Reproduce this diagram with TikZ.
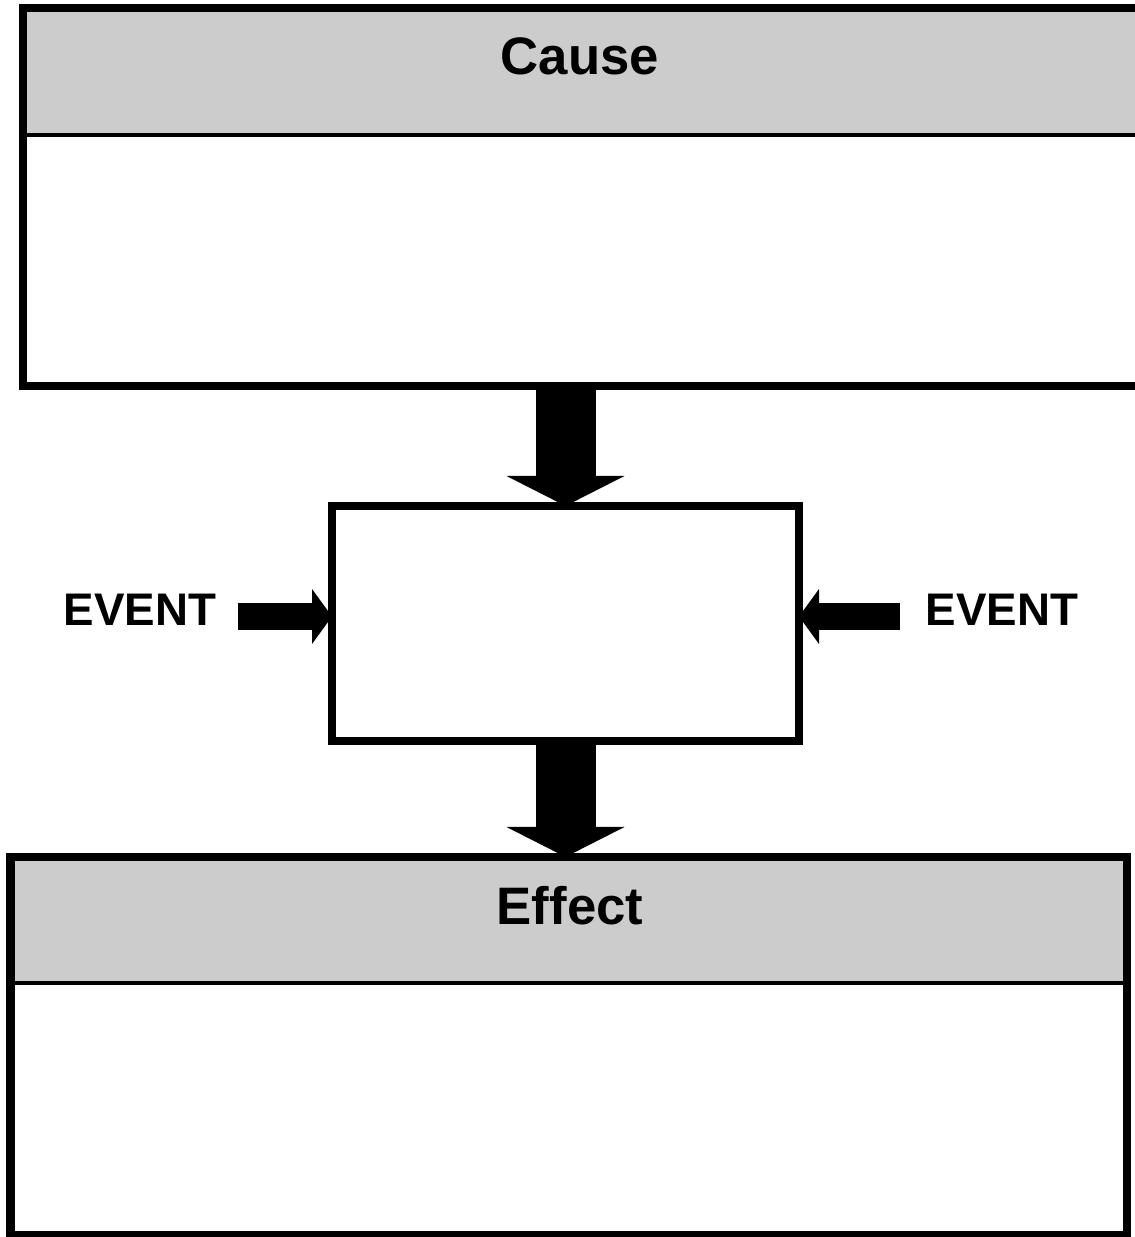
\documentclass[tikz,border=0pt]{standalone}
\usepackage{fontspec}
\setmainfont{Liberation Sans}
\usetikzlibrary{arrows.meta,backgrounds}
\definecolor{headgray}{RGB}{204,204,204}

\tikzset{
    box/.style={draw, line width=0.16cm, rectangle, inner sep=0pt, outer sep=0pt},
    divider/.style={line width=0.08cm},
    title/.style={font=\fontsize{30}{36}\selectfont\bfseries, inner sep=0pt},
    eventlabel/.style={font=\fontsize{26}{31}\selectfont\bfseries, inner sep=0pt},
    bigarrow/.style={line width=1.2cm, -{Triangle[length=0.6cm, width=2.36cm, line width=0pt]}},
    sidearrow/.style={line width=0.54cm, -{Triangle[length=0.4cm, width=1.1cm, line width=0pt]}}
}

\begin{document}
\begin{tikzpicture}
    \useasboundingbox (0,0) rectangle (22.7,24.74);
    \clip (0,0) rectangle (22.7,24.74);

    % Cause box
    \node[box, minimum width=22.45cm, minimum height=7.56cm] (cause) at (11.675,20.8) {};
    \begin{scope}[on background layer]
        \fill[headgray] (cause.north west) rectangle ([yshift=-2.54cm]cause.north east);
    \end{scope}
    \draw[divider] ([yshift=-2.54cm]cause.north west) -- ([yshift=-2.54cm]cause.north east);
    \node[title] (causetitle) at (11.6,23.62) {Cause};

    % Event box
    \node[box, minimum width=9.34cm, minimum height=4.7cm] (event) at (11.31,12.27) {};

    \node[eventlabel] (evleft) at (2.8,12.54) {EVENT};
    \node[eventlabel] (evright) at (20.04,12.54) {EVENT};

    % Effect box
    \node[box, minimum width=22.33cm, minimum height=7.56cm] (effect) at (11.375,3.82) {};
    \begin{scope}[on background layer]
        \fill[headgray] (effect.north west) rectangle ([yshift=-2.52cm]effect.north east);
    \end{scope}
    \draw[divider] ([yshift=-2.52cm]effect.north west) -- ([yshift=-2.52cm]effect.north east);
    \node[title] (effecttitle) at (11.4,6.62) {Effect};

    % Arrows
    \draw[bigarrow] (event.north |- cause.south) -- (event.north);
    \draw[bigarrow] (event.south) -- (event.south |- effect.north);

    \draw[sidearrow] ([xshift=0.42cm,yshift=-0.13cm]evleft.east) -- ([yshift=-0.13cm]evleft.east -| event.west);
    \draw[sidearrow] ([xshift=-0.5cm,yshift=-0.13cm]evright.west) -- ([yshift=-0.13cm]evright.west -| event.east);
\end{tikzpicture}
\end{document}
